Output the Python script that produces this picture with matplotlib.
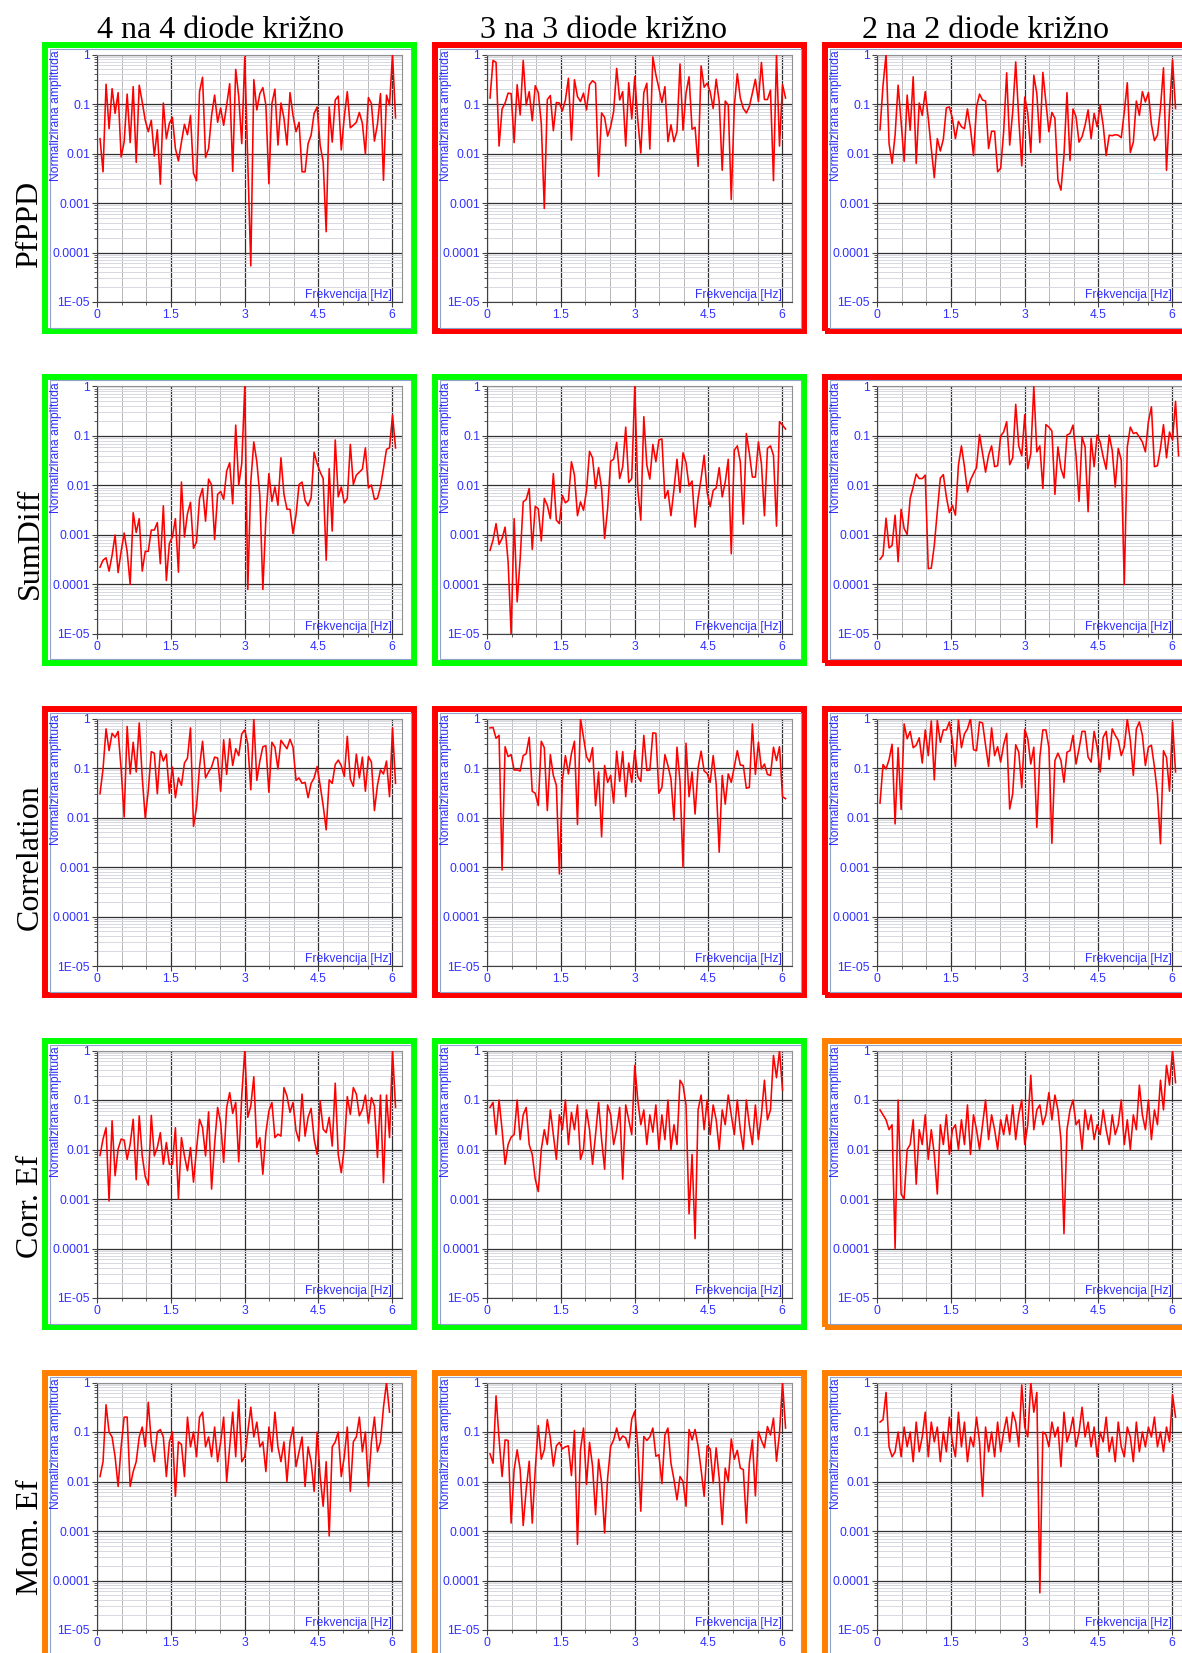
import numpy as np
import matplotlib
matplotlib.use("Agg")
import matplotlib.pyplot as plt
from matplotlib.patches import Rectangle
from matplotlib.ticker import FixedLocator, LogLocator, NullFormatter

# log10 of the normalised amplitude, one value per frequency bin
pfppd_4 = [-1.7, -2.37, -0.6, -1.5, -0.69, -1.19, -0.77, -2.07, -1.77, -0.8,
           -1.78, -0.65, -2.18, -0.62, -0.96, -1.33, -1.56, -1.33, -2.05, -1.52,
           -2.62, -0.98, -1.7, -1.39, -1.27, -1.9, -2.15, -1.77, -1.41, -1.62,
           -1.23, -2.4, -2.55, -0.75, -0.46, -2.08, -1.9, -1.23, -0.82, -1.37,
           -1.08, -1.43, -1.02, -0.59, -2.36, -0.3, -0.85, -1.8, -0.05, -2.17,
           -4.27, -0.51, -1.12, -0.79, -0.67, -1.02, -2.61, -0.99, -0.7, -1.83,
           -0.98, -1.29, -1.83, -0.77, -1.23, -1.56, -1.37, -2.37, -2.37, -1.8,
           -1.63, -1.19, -1.06, -1.83, -2.17, -3.58, -1.06, -1.77, -0.92, -0.84,
           -1.93, -1.26, -0.75, -1.48, -1.43, -1.37, -1.17, -1.39, -2.01, -0.87,
           -0.99, -1.75, -1.41, -0.79, -2.54, -0.82, -1.02, 0.0, -1.28]
pfppd_3 = [-0.88, -0.12, -0.16, -1.85, -1.1, -0.98, -0.78, -0.79, -1.78, -0.61,
           -1.22, -0.12, -1.02, -0.75, -1.34, -0.63, -0.77, -1.39, -3.11, -0.91,
           -0.83, -1.54, -0.97, -0.98, -1.14, -0.92, -0.48, -1.73, -0.51, -0.85,
           -0.95, -0.78, -1.12, -0.61, -0.53, -0.58, -2.46, -1.18, -1.27, -1.65,
           -1.46, -1.15, -0.28, -0.92, -0.75, -1.85, -0.57, -1.3, -0.45, -1.32,
           -1.99, -0.77, -0.58, -1.91, -0.05, -0.41, -0.68, -0.97, -0.65, -1.76,
           -1.42, -1.76, -1.55, -0.19, -1.53, -0.78, -0.45, -1.51, -1.47, -2.26,
           -0.23, -0.66, -0.58, -0.75, -1.09, -0.5, -0.95, -2.34, -0.94, -1.02,
           -2.93, -1.05, -0.39, -0.88, -1.09, -1.18, -1.05, -0.78, -0.5, -0.95,
           -0.16, -0.91, -0.91, -0.72, -2.55, 0.0, -1.85, -0.61, -0.88]
pfppd_2 = [-1.52, -0.62, 0.0, -1.8, -2.2, -1.63, -0.62, -1.36, -2.16, -0.82,
           -1.53, -0.45, -2.2, -0.98, -1.23, -0.75, -1.29, -1.9, -2.49, -1.7,
           -1.95, -1.71, -1.08, -1.06, -1.29, -1.7, -1.35, -1.46, -1.5, -1.1,
           -1.5, -2.04, -1.06, -0.8, -0.92, -0.94, -1.9, -1.55, -1.55, -2.37,
           -2.3, -1.56, -0.37, -1.83, -1.16, -0.15, -1.29, -2.25, -0.86, -1.19,
           -1.98, -0.42, -0.79, -1.78, -0.36, -0.96, -1.56, -1.17, -1.29, -2.54,
           -2.74, -2.04, -0.77, -2.14, -1.1, -1.26, -1.77, -1.66, -1.43, -1.12,
           -1.7, -1.19, -1.46, -1.02, -1.43, -2.04, -1.63, -1.64, -1.62, -1.63,
           -1.68, -1.16, -0.57, -1.98, -1.77, -0.94, -1.23, -0.75, -0.96, -0.77,
           -1.41, -1.74, -1.63, -1.08, -0.27, -2.34, -1.12, -0.11, -1.09]

sumdiff_4 = [-3.65, -3.51, -3.46, -3.73, -3.41, -3.0, -3.76, -3.33, -2.96, -3.34,
             -4.0, -2.55, -2.95, -2.67, -3.73, -3.33, -3.33, -2.9, -2.9, -2.75,
             -3.58, -2.41, -3.92, -3.17, -3.04, -2.67, -3.75, -1.93, -3.04, -2.57,
             -2.34, -3.27, -3.14, -2.26, -2.06, -2.72, -1.87, -1.99, -3.09, -2.18,
             -2.12, -2.28, -1.71, -1.54, -2.37, -0.78, -1.99, -1.56, 0.0, -4.1,
             -1.93, -1.12, -1.52, -2.2, -4.1, -2.67, -1.76, -2.32, -2.03, -2.4,
             -1.44, -2.18, -2.48, -2.48, -2.97, -2.6, -1.98, -1.93, -2.3, -2.41,
             -2.25, -1.33, -1.56, -1.73, -1.86, -3.51, -1.66, -2.92, -1.08, -2.23,
             -2.03, -2.35, -2.26, -1.17, -1.98, -1.79, -1.73, -1.67, -1.24, -2.05,
             -1.99, -2.28, -2.26, -2.03, -1.66, -1.27, -1.24, -0.58, -1.24]
sumdiff_3 = [-3.31, -3.1, -2.77, -3.19, -3.07, -2.84, -3.54, -5.0, -2.67, -4.35,
             -3.48, -2.33, -2.28, -2.06, -3.29, -2.42, -2.47, -3.12, -2.26, -2.4,
             -2.67, -1.76, -2.7, -2.77, -2.2, -2.35, -2.3, -1.52, -1.79, -2.61,
             -2.33, -2.5, -2.1, -1.31, -1.44, -2.06, -1.64, -2.06, -3.07, -2.47,
             -1.51, -1.47, -1.13, -1.86, -1.62, -0.82, -1.94, -1.86, 0.0, -2.08,
             -2.7, -0.61, -1.59, -1.87, -1.17, -1.52, -1.08, -1.06, -2.26, -2.1,
             -2.61, -2.08, -1.47, -2.14, -1.34, -1.54, -2.01, -1.91, -2.84, -2.26,
             -1.86, -1.39, -2.14, -2.43, -2.1, -2.05, -1.64, -2.23, -1.93, -1.47,
             -3.38, -1.29, -1.2, -1.52, -2.78, -0.95, -1.35, -1.83, -1.83, -1.12,
             -1.56, -2.61, -1.25, -1.2, -1.39, -2.82, -0.71, -0.78, -0.86]
sumdiff_2 = [-3.49, -3.41, -2.66, -3.26, -3.21, -2.6, -3.54, -2.48, -2.87, -2.99,
             -2.26, -2.03, -1.77, -1.86, -1.86, -1.79, -3.68, -3.67, -3.21, -2.52,
             -1.85, -1.78, -2.23, -2.55, -2.4, -2.6, -1.59, -1.2, -1.62, -2.13,
             -1.89, -1.76, -1.64, -0.97, -1.35, -1.73, -1.39, -1.2, -1.62, -1.6,
             -1.0, -0.92, -0.71, -1.58, -1.44, -0.36, -1.2, -1.4, -0.57, -1.66,
             -1.35, 0.0, -1.32, -1.2, -2.06, -0.77, -0.82, -0.9, -2.18, -1.22,
             -1.66, -1.85, -0.98, -0.95, -0.78, -1.39, -2.32, -1.02, -1.22, -2.53,
             -1.05, -1.62, -0.98, -1.12, -1.42, -1.67, -0.98, -1.29, -2.03, -1.25,
             -1.49, -4.0, -1.22, -0.82, -0.95, -0.93, -1.02, -1.12, -1.32, -0.71,
             -0.41, -1.62, -1.6, -1.25, -0.77, -1.44, -0.92, -1.08, -0.3, -1.4]

correlation_4 = [-1.52, -1.02, -0.21, -0.65, -0.3, -0.38, -0.26, -1.02, -1.99, -0.16,
                 -1.12, -0.48, -1.08, -0.09, -1.19, -2.01, -1.46, -0.67, -0.7, -1.52,
                 -0.65, -0.86, -0.72, -1.51, -0.98, -1.6, -1.2, -1.35, -0.9, -0.8,
                 -0.19, -2.18, -1.79, -0.98, -0.46, -1.2, -1.08, -0.98, -0.78, -0.8,
                 -1.47, -0.43, -1.13, -0.41, -0.95, -0.61, -0.75, -0.31, -0.23, -0.51,
                 -1.44, 0.0, -1.25, -0.86, -0.57, -0.55, -1.49, -0.48, -0.58, -1.02,
                 -0.44, -0.53, -0.61, -0.42, -0.58, -1.25, -1.2, -1.31, -1.29, -1.6,
                 -1.31, -1.2, -0.97, -1.35, -1.76, -2.25, -1.24, -1.31, -0.93, -0.84,
                 -0.95, -1.17, -0.36, -1.22, -1.37, -0.72, -1.2, -0.78, -1.47, -0.77,
                 -0.88, -1.86, -1.35, -1.04, -1.12, -0.86, -1.58, -0.19, -1.31]
correlation_3 = [-0.19, -0.18, -0.4, -0.34, -3.06, -0.57, -0.77, -0.73, -1.04, -1.04,
                 -1.06, -0.75, -0.71, -0.38, -1.47, -1.51, -1.76, -0.46, -0.59, -1.86,
                 -0.73, -1.15, -1.35, -3.14, -1.25, -0.75, -1.12, -0.71, -0.46, -2.14,
                 0.0, -0.38, -0.77, -0.88, -0.59, -1.76, -1.08, -2.39, -0.95, -1.29,
                 -1.15, -1.71, -0.66, -1.27, -0.67, -1.58, -0.9, -1.29, -0.65, -1.17,
                 -1.27, -0.34, -1.05, -1.04, -0.29, -0.3, -1.51, -1.39, -0.73, -0.95,
                 -1.22, -2.05, -0.58, -1.27, -3.0, -0.5, -1.58, -1.08, -1.93, -1.0,
                 -0.66, -1.06, -1.11, -1.29, -0.75, -1.32, -2.7, -1.15, -1.73, -1.12,
                 -1.29, -0.98, -0.65, -0.94, -0.95, -1.41, -1.39, -0.11, -1.13, -0.48,
                 -1.02, -0.92, -1.13, -1.15, -0.58, -0.85, -0.57, -1.58, -1.62]
correlation_2 = [-1.71, -0.93, -1.02, -0.83, -0.52, -2.13, -0.59, -1.84, -0.11, -0.41,
                 -0.26, -0.59, -0.54, -0.39, -0.9, -0.23, -0.75, -0.05, -1.24, -0.04,
                 -0.48, -0.23, -0.23, -0.07, -0.44, -0.97, -0.03, -0.59, -0.31, -0.21,
                 0.0, -0.63, -0.65, -0.07, -0.09, -0.54, -0.97, -0.19, -0.75, -0.57,
                 -0.88, -0.53, -0.3, -1.83, -1.52, -0.53, -0.68, -1.4, -0.22, -0.41,
                 -0.92, -0.58, -2.2, -0.78, -0.23, -0.23, -0.58, -2.52, -0.85, -0.7,
                 -0.85, -1.29, -0.68, -0.65, -0.34, -0.92, -0.61, -0.26, -0.26, -0.78,
                 -0.88, -0.26, -0.58, -1.08, -0.38, -0.26, -0.83, -0.21, -0.34, -0.44,
                 -0.75, -0.57, -0.01, -0.44, -1.15, -0.21, -0.07, -0.34, -0.95, -0.58,
                 -0.54, -0.98, -1.52, -2.53, -0.65, -0.79, -1.47, -0.07, -1.08]

corr_ef_4 = [-2.12, -1.79, -1.56, -3.04, -1.42, -2.53, -1.99, -1.79, -1.81, -2.2,
             -1.89, -1.39, -2.61, -1.32, -2.13, -2.55, -2.72, -1.31, -2.13, -1.96,
             -1.66, -2.3, -1.86, -2.3, -2.3, -1.56, -3.0, -1.76, -2.13, -2.43,
             -1.96, -2.66, -1.99, -1.39, -1.56, -2.13, -1.24, -2.8, -1.89, -1.15,
             -1.46, -2.26, -1.15, -0.85, -1.27, -1.05, -2.25, -0.92, 0.0, -1.35,
             -1.12, -0.53, -1.96, -1.76, -2.5, -1.66, -1.22, -1.05, -1.76, -1.69,
             -1.73, -0.75, -0.92, -1.25, -1.05, -1.62, -1.83, -0.88, -1.73, -1.35,
             -1.17, -1.79, -2.1, -1.02, -1.59, -1.66, -1.35, -1.93, -0.66, -2.1,
             -2.47, -1.96, -0.93, -1.29, -0.75, -0.88, -1.32, -1.19, -0.9, -1.47,
             -0.95, -1.12, -2.16, -0.9, -2.67, -0.9, -1.76, 0.0, -1.15]
corr_ef_3 = [-1.15, -1.05, -1.7, -1.0, -1.6, -2.3, -1.9, -1.75,
             -1.7, -1.0, -1.8, -1.3, -1.15, -1.9, -2.1, -2.6,
             -2.85, -2.0, -1.6, -1.9, -1.2, -1.7, -2.2, -1.3,
             -1.6, -1.0, -1.9, -1.25, -1.6, -1.1, -2.2, -2.0,
             -1.2, -1.6, -2.3, -1.7, -1.05, -1.8, -2.4, -1.1,
             -1.3, -1.9, -1.6, -1.15, -2.6, -1.1, -1.4, -1.7, -0.3,
             -1.0, -1.5, -1.2, -1.9, -1.3, -1.65, -1.1, -2.0,
             -1.3, -1.8, -1.0, -2.0, -1.5, -1.9, -0.6, -0.7,
             -1.1, -3.3, -2.1, -3.8, -1.2, -0.9, -1.6, -1.0,
             -1.7, -1.1, -1.4, -2.0, -1.2, -1.5, -0.9, -1.3,
             -1.7, -1.0, -1.6, -2.0, -1.0, -1.5, -1.9, -1.1,
             -1.8, -1.3, -0.6, -1.4, -1.2, -0.1, -0.55, 0.0, -0.8]
corr_ef_2 = [-1.2, -1.3, -1.4, -1.6, -1.5, -4.0, -1.0, -2.9, -3.0, -2.0,
             -1.9, -1.4, -2.7, -1.6, -1.9, -1.3, -2.2, -1.6,
             -2.1, -2.9, -1.5, -1.9, -1.3, -2.1, -1.6, -1.5,
             -2.0, -1.4, -1.9, -1.1, -2.1, -1.3, -1.6, -2.0,
             -1.5, -1.0, -1.8, -1.3, -1.6, -2.0, -1.4, -1.7,
             -1.3, -1.7, -1.1, -1.8, -1.3, -1.0, -1.9, -1.5,
             -0.5, -1.6, -1.2, -1.1, -1.5, -1.3, -0.85, -1.4,
             -0.9, -1.2, -1.8, -3.7, -1.6, -1.2, -1.0, -1.5,
             -1.4, -2.0, -1.2, -1.6, -1.3, -1.8, -1.5, -1.7,
             -1.2, -1.6, -1.9, -1.3, -1.7, -1.5, -1.0, -1.9,
             -1.4, -2.0, -1.3, -1.6, -0.7, -1.3, -1.6, -1.0,
             -1.8, -1.2, -1.5, -0.6, -1.2, -0.3, -0.7, 0.0, -0.65]

mom_ef_4 = [-1.9, -1.6, -0.45, -1.0, -1.1, -1.5, -2.1, -1.3,
            -0.7, -0.7, -2.1, -1.8, -1.6, -1.1, -0.9, -1.3,
            -0.4, -1.2, -1.6, -1.0, -0.95, -1.1, -1.9, -1.2,
            -1.0, -2.3, -1.2, -1.25, -1.9, -0.7, -1.3, -1.0,
            -1.5, -0.7, -0.6, -1.3, -1.1, -1.5, -0.9, -1.6,
            -1.2, -0.7, -2.0, -1.3, -0.6, -1.5, -0.35, -1.6,
            -1.5, -1.0, -0.5, -1.1, -0.8, -1.3, -1.2, -1.8,
            -0.9, -1.4, -0.6, -1.3, -1.6, -1.2, -2.0, -1.2,
            -0.9, -1.7, -1.4, -1.1, -2.1, -1.3, -1.6, -2.2,
            -1.0, -1.9, -2.5, -1.6, -3.1, -1.3, -1.2, -1.0,
            -1.9, -1.5, -0.9, -2.2, -1.2, -1.1, -0.7, -1.4,
            -1.0, -2.1, -1.2, -0.7, -1.4, -1.2, -0.5, 0.0, -0.6]
mom_ef_3 = [-1.44, -1.63, -0.27, -1.14, -1.9, -1.16, -1.17, -2.84, -1.76, -1.36,
            -1.76, -2.89, -2.16, -1.59, -2.84, -1.76, -0.87, -1.55, -1.36, -0.75,
            -1.12, -1.69, -1.28, -1.21, -1.34, -1.3, -1.28, -1.88, -0.97, -3.27,
            -1.36, -0.92, -2.06, -1.21, -1.69, -2.67, -1.55, -2.03, -3.04, -1.93,
            -1.29, -1.16, -0.92, -1.17, -1.08, -1.12, -1.32, -0.74, -0.58, -1.29,
            -2.6, -1.09, -1.17, -1.1, -0.92, -1.49, -1.46, -2.04, -1.06, -0.92,
            -1.63, -1.96, -2.37, -1.9, -2.0, -2.5, -0.95, -1.16, -0.95, -1.29,
            -1.76, -2.3, -1.28, -1.34, -2.03, -1.32, -1.93, -2.87, -1.73, -2.0,
            -1.14, -1.55, -1.37, -1.73, -1.76, -2.84, -1.63, -1.16, -2.29, -0.99,
            -1.17, -1.32, -0.89, -1.06, -0.72, -1.59, -1.02, 0.0, -0.92]
mom_ef_2 = [-0.8, -0.75, -0.2, -1.3, -1.5, -1.4, -1.0, -1.5,
            -0.9, -1.3, -1.0, -1.6, -0.8, -1.4, -1.1, -0.6,
            -1.5, -0.8, -1.2, -0.9, -1.6, -1.0, -1.4, -0.7,
            -1.2, -1.5, -0.6, -1.3, -0.8, -1.6, -1.1, -1.3,
            -0.7, -1.2, -2.3, -0.9, -1.4, -1.0, -1.5, -0.8,
            -1.4, -1.0, -0.7, -1.2, -0.6, -0.8, -1.3, -0.05,
            -0.9, -1.1, 0.0, -0.6, -0.2, -4.25, -1.0, -1.05,
            -1.3, -0.8, -1.1, -0.9, -1.7, -0.6, -1.2, -1.0,
            -0.7, -1.3, -1.0, -0.5, -1.1, -0.8, -1.3, -0.9,
            -1.5, -1.0, -1.2, -0.7, -1.4, -1.1, -1.6, -0.8,
            -1.3, -1.5, -0.9, -1.1, -1.6, -0.8, -1.4, -1.0,
            -1.3, -0.9, -1.1, -0.7, -1.3, -1.0, -1.4, -0.9, -1.2, -0.25, -0.7]

col_titles = ["4 na 4 diode križno", "3 na 3 diode križno", "2 na 2 diode križno"]
row_titles = ["PfPPD", "SumDiff", "Correlation", "Corr. Ef", "Mom. Ef"]
panels = [[pfppd_4, pfppd_3, pfppd_2],
          [sumdiff_4, sumdiff_3, sumdiff_2],
          [correlation_4, correlation_3, correlation_2],
          [corr_ef_4, corr_ef_3, corr_ef_2],
          [mom_ef_4, mom_ef_3, mom_ef_2]]
frame_colors = [["#00ff00", "#ff0000", "#ff0000"],
                ["#00ff00", "#00ff00", "#ff0000"],
                ["#ff0000", "#ff0000", "#ff0000"],
                ["#00ff00", "#00ff00", "#ff8000"],
                ["#ff8000", "#ff8000", "#ff8000"]]
x_ticks = [0, 1.5, 3, 4.5, 6]
x_labels = ["0", "1.5", "3", "4.5", "6"]
y_ticks = [1e-5, 1e-4, 1e-3, 1e-2, 1e-1, 1]
y_labels = ["1E-05", "0.0001", "0.001", "0.01", "0.1", "1"]
df = 0.0613  # razmak frekvencijskih binova [Hz]

BLUE = "#3030ff"
FS = 8.7
W, H = 1182, 1653
plt.rcParams["font.family"] = ["Liberation Sans", "DejaVu Sans"]

fig = plt.figure(figsize=(W / 100, H / 100), dpi=100)


def fig_box(x, y, w, h):
    # pikselne koordinate (gore-lijevo) -> koordinate figure
    return (x / W, 1 - (y + h) / H, w / W, h / H)


for r in range(5):
    for c in range(3):
        x0 = 42 + 390 * c
        y0 = 42 + 332 * r

        # debeli obojeni okvir + tanki unutarnji okvir
        fx, fy, fw, fh = fig_box(x0 + 3, y0 + 3, 369, 286)
        fig.add_artist(Rectangle((fx, fy), fw, fh, transform=fig.transFigure,
                                 fill=False, edgecolor=frame_colors[r][c], linewidth=4.3))
        ix, iy, iw, ih = fig_box(x0 + 7.5, y0 + 6.5, 361, 279)
        fig.add_artist(Rectangle((ix, iy), iw, ih, transform=fig.transFigure,
                                 fill=False, edgecolor="#8da3c9", linewidth=0.8))

        ax = fig.add_axes(fig_box(x0 + 55, y0 + 12.5, 305, 247.5))
        vals = 10.0 ** np.array(panels[r][c])
        freq = df * np.arange(1, len(vals) + 1)
        ax.plot(freq, vals, color="#ff0000", linewidth=1.15, zorder=3)

        ax.set_yscale("log")
        ax.set_xlim(0, 6.2)
        ax.set_ylim(1e-5, 1)
        ax.xaxis.set_major_locator(FixedLocator(x_ticks))
        ax.xaxis.set_minor_locator(FixedLocator(np.arange(0.5, 6.2, 0.5)))
        ax.set_xticklabels(x_labels)
        ax.yaxis.set_major_locator(FixedLocator(y_ticks))
        ax.yaxis.set_minor_locator(LogLocator(base=10, subs=np.arange(2, 10), numticks=50))
        ax.yaxis.set_minor_formatter(NullFormatter())
        ax.set_yticklabels(y_labels)

        ax.set_axisbelow(True)
        ax.grid(True, which="major", color="#303030", linewidth=0.9)
        ax.xaxis.grid(True, which="minor", color="#b8b8b8", linewidth=0.7)
        ax.yaxis.grid(True, which="minor", color="#d8d8e2", linewidth=0.7)

        ax.tick_params(which="both", direction="out", colors="#404040",
                       labelcolor=BLUE, labelsize=FS)
        ax.tick_params(which="major", length=3.5, width=0.8, pad=1.5)
        ax.tick_params(which="minor", length=2.5, width=0.6)
        for side in ["left", "bottom"]:
            ax.spines[side].set_color("#404040")
        for side in ["top", "right"]:
            ax.spines[side].set_color("#909090")

        ax.text(0.968, 0.003, "Frekvencija [Hz]", transform=ax.transAxes,
                ha="right", va="bottom", fontsize=FS, color=BLUE)
        fig.text((x0 + 14) / W, 1 - (y0 + 8) / H, "Normalizirana amplituda",
                 rotation=90, ha="center", va="top", fontsize=FS, color=BLUE)

# naslovi stupaca i redaka
title_x = [220, 603, 986]
for c in range(3):
    fig.text(title_x[c] / W, 1 - 38 / H, col_titles[c], ha="center", va="baseline",
             fontsize=23, family=["Liberation Serif", "DejaVu Serif"])

row_y = [224, 543, 857, 1206, 1537]
for r in range(5):
    fig.text(30 / W, 1 - row_y[r] / H, row_titles[r], rotation=90, ha="center",
             va="center", fontsize=23, family=["Liberation Serif", "DejaVu Serif"])

fig.savefig("out.png", dpi=100, facecolor="white")
